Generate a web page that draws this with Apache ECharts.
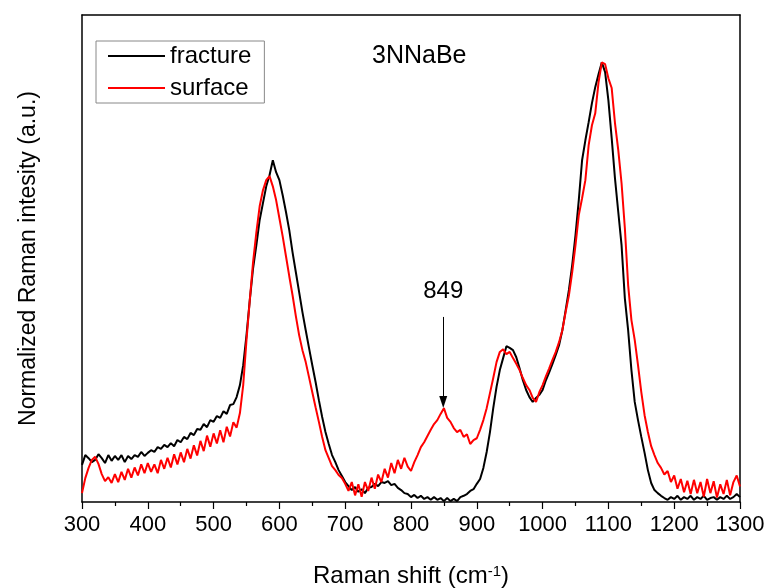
<!DOCTYPE html>
<html>
<head>
<meta charset="utf-8">
<script src="https://cdn.jsdelivr.net/npm/echarts@6/dist/echarts.min.js"></script>
<style>
  html, body { margin: 0; padding: 0; background: #fff; }
  #main { width: 767px; height: 588px; }
</style>
</head>
<body>
<div id="main"></div>
<script>
// Raman shift, step 5 cm-1
var shift = [];
for (var s = 300; s <= 1300; s += 5) shift.push(s);

var fracture = [
  0.084,0.106,0.099,0.090,0.095,0.108,0.099,0.088,0.106,0.093,
  0.104,0.095,0.106,0.090,0.104,0.097,0.106,0.102,0.113,0.104,
  0.111,0.117,0.113,0.124,0.120,0.129,0.124,0.133,0.126,0.140,
  0.135,0.147,0.142,0.156,0.151,0.165,0.163,0.176,0.169,0.185,
  0.181,0.194,0.190,0.205,0.199,0.219,0.221,0.237,0.264,0.309,
  0.377,0.456,0.528,0.580,0.637,0.675,0.713,0.738,0.772,0.745,
  0.727,0.693,0.655,0.614,0.564,0.519,0.474,0.429,0.388,0.348,
  0.309,0.271,0.230,0.192,0.158,0.131,0.106,0.090,0.072,0.059,
  0.045,0.036,0.027,0.034,0.023,0.029,0.020,0.032,0.034,0.041,
  0.036,0.045,0.043,0.047,0.038,0.041,0.032,0.027,0.020,0.018,
  0.011,0.016,0.009,0.014,0.007,0.011,0.005,0.011,0.005,0.009,
  0.002,0.009,0.002,0.007,0.002,0.011,0.014,0.018,0.025,0.029,
  0.041,0.052,0.077,0.113,0.158,0.212,0.260,0.298,0.325,0.352,
  0.348,0.343,0.327,0.302,0.275,0.253,0.237,0.226,0.235,0.242,
  0.253,0.275,0.293,0.312,0.332,0.354,0.388,0.433,0.479,0.535,
  0.603,0.682,0.772,0.817,0.858,0.901,0.937,0.966,0.993,0.971,
  0.907,0.822,0.731,0.655,0.580,0.460,0.388,0.298,0.226,0.185,
  0.147,0.111,0.072,0.043,0.027,0.020,0.014,0.009,0.005,0.011,
  0.007,0.014,0.005,0.011,0.007,0.014,0.005,0.011,0.007,0.014,
  0.005,0.009,0.011,0.005,0.011,0.007,0.014,0.007,0.011,0.018,
  0.011
];

var surface = [
  0.020,0.054,0.077,0.095,0.102,0.086,0.063,0.047,0.056,0.043,
  0.063,0.045,0.068,0.050,0.075,0.055,0.078,0.060,0.085,0.065,
  0.088,0.068,0.085,0.065,0.095,0.075,0.100,0.078,0.108,0.085,
  0.112,0.090,0.120,0.098,0.128,0.105,0.138,0.115,0.150,0.125,
  0.155,0.132,0.162,0.135,0.170,0.148,0.180,0.168,0.201,0.264,
  0.366,0.456,0.542,0.609,0.668,0.704,0.727,0.736,0.713,0.682,
  0.641,0.600,0.555,0.510,0.467,0.420,0.377,0.343,0.316,0.282,
  0.248,0.214,0.181,0.147,0.117,0.099,0.081,0.072,0.061,0.054,
  0.041,0.025,0.045,0.015,0.040,0.012,0.045,0.025,0.055,0.030,
  0.062,0.045,0.075,0.055,0.088,0.065,0.095,0.075,0.100,0.080,
  0.070,0.090,0.106,0.124,0.135,0.149,0.163,0.176,0.185,0.199,
  0.212,0.190,0.181,0.167,0.158,0.163,0.147,0.153,0.131,0.140,
  0.144,0.163,0.185,0.212,0.246,0.280,0.316,0.339,0.345,0.334,
  0.339,0.325,0.312,0.298,0.280,0.264,0.253,0.235,0.226,0.248,
  0.264,0.284,0.302,0.321,0.339,0.361,0.388,0.429,0.467,0.519,
  0.580,0.648,0.686,0.727,0.806,0.851,0.878,0.948,0.993,0.989,
  0.957,0.935,0.856,0.795,0.720,0.619,0.490,0.411,0.366,0.309,
  0.248,0.196,0.158,0.126,0.106,0.088,0.077,0.062,0.070,0.045,
  0.060,0.030,0.052,0.022,0.048,0.018,0.050,0.020,0.045,0.012,
  0.052,0.020,0.047,0.010,0.040,0.018,0.050,0.015,0.045,0.060,
  0.035
];

var xTicks = [300,400,500,600,700,800,900,1000,1100,1200,1300];
var peakLabel = '849';
var peakShift = 849;
var arrowFrom = 0.418, arrowTo = 0.226;

function pairs(xs, ys) {
  var out = [];
  for (var i = 0; i < xs.length; i++) out.push([xs[i], ys[i]]);
  return out;
}

var font = 'Arial, "Liberation Sans", sans-serif';
var chart = echarts.init(document.getElementById('main'), null, { renderer: 'canvas' });

var option = {
  backgroundColor: '#fff',
  animation: false,
  textStyle: { fontFamily: font, color: '#000' },
  title: {
    text: '3NNaBe',
    left: 372, top: 44, padding: 0,
    textStyle: { fontFamily: font, fontSize: 25, fontWeight: 'normal', color: '#000' }
  },
  legend: {
    orient: 'vertical',
    left: 96, top: 41,
    padding: [2, 13, 2, 12],
    itemGap: 6,
    itemWidth: 57, itemHeight: 2,
    icon: 'rect',
    borderColor: '#888', borderWidth: 1,
    textStyle: { fontFamily: font, fontSize: 24, color: '#000', lineHeight: 26 },
    data: ['fracture', 'surface']
  },
  grid: { left: 82, right: 27, top: 15, bottom: 86, outerBoundsMode: 'none', containLabel: false },
  xAxis: [{
    type: 'value',
    min: 300, max: 1300, interval: 100,
    name: 'Raman shift (cm{sup|-1})',
    nameLocation: 'middle', nameGap: 62,
    nameTextStyle: {
      fontFamily: font, fontSize: 24, color: '#000',
      rich: { sup: { fontFamily: font, fontSize: 15, color: '#000', verticalAlign: 'top', padding: [0, 0, 10, 0] } }
    },
    axisLine: { show: true, onZero: false, lineStyle: { color: '#000', width: 1.5 } },
    axisTick: { show: true, inside: false, length: 7, lineStyle: { color: '#000', width: 1.2 } },
    minorTick: { show: true, splitNumber: 2, length: 4, lineStyle: { color: '#000', width: 1.2 } },
    axisLabel: {
      fontFamily: font, fontSize: 22, color: '#000', margin: 12,
      formatter: function (v) { return xTicks.indexOf(v) >= 0 ? String(v) : ''; }
    },
    splitLine: { show: false }
  }, {
    type: 'value', position: 'top',
    min: 300, max: 1300,
    axisLine: { show: true, onZero: false, lineStyle: { color: '#000', width: 1.5 } },
    axisTick: { show: false }, axisLabel: { show: false }, splitLine: { show: false }
  }],
  yAxis: [{
    type: 'value', min: 0, max: 1.1,
    name: 'Normalized Raman intesity (a.u.)',
    nameLocation: 'middle', nameGap: 42,
    nameTextStyle: { fontFamily: font, fontSize: 23, color: '#000' },
    axisLine: { show: true, onZero: false, lineStyle: { color: '#000', width: 1.5 } },
    axisTick: { show: false }, axisLabel: { show: false }, splitLine: { show: false }
  }, {
    type: 'value', min: 0, max: 1.1, position: 'right',
    axisLine: { show: true, onZero: false, lineStyle: { color: '#000', width: 1.5 } },
    axisTick: { show: false }, axisLabel: { show: false }, splitLine: { show: false }
  }],
  series: [{
    name: 'fracture',
    type: 'line',
    showSymbol: false,
    color: '#000',
    lineStyle: { color: '#000', width: 2 },
    data: pairs(shift, fracture)
  }, {
    name: 'surface',
    type: 'line',
    showSymbol: false,
    color: '#ff0000',
    lineStyle: { color: '#ff0000', width: 2 },
    data: pairs(shift, surface),
    markLine: {
      silent: true,
      symbol: ['none', 'triangle'],
      symbolSize: [8, 12],
      symbolRotate: 180,
      lineStyle: { color: '#000', width: 1, type: 'solid' },
      label: {
        show: true, position: 'start', distance: 14,
        formatter: peakLabel,
        fontFamily: font, fontSize: 24, color: '#000'
      },
      data: [[{ coord: [peakShift, arrowFrom] }, { coord: [peakShift, arrowTo] }]]
    }
  }]
};
chart.setOption(option);
</script>
</body>
</html>
